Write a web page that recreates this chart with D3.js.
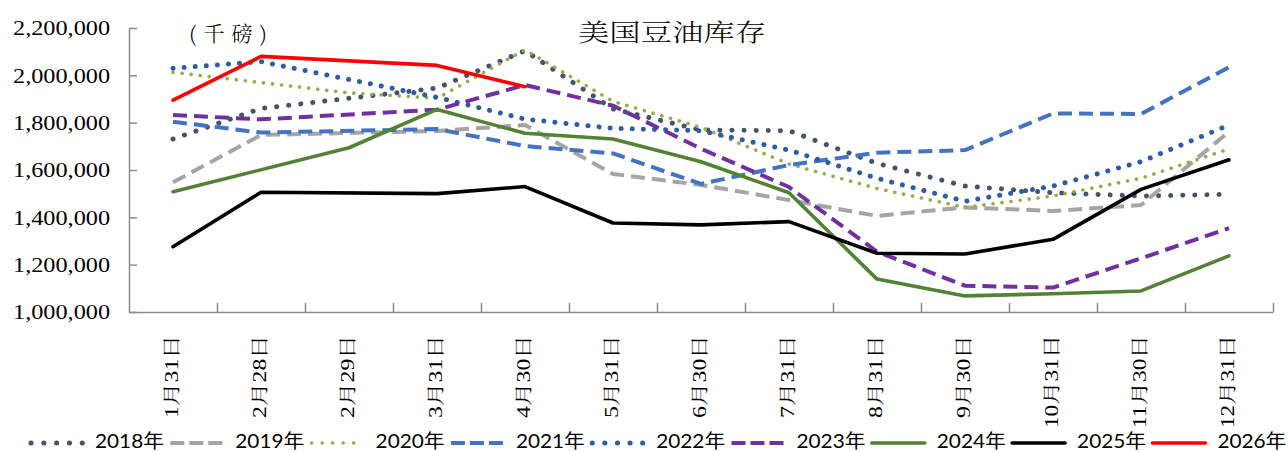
<!DOCTYPE html>
<html>
<head>
<meta charset="utf-8">
<script src="https://cdn.jsdelivr.net/npm/d3@7"></script>
<style>
  html, body { margin: 0; padding: 0; background: #ffffff; }
  svg { display: block; }
</style>
</head>
<body>
<svg id="chart" width="1288" height="452"></svg>
<script>
// ---------------- data ----------------
const categories = ["1月31日","2月28日","2月29日","3月31日","4月30日","5月31日","6月30日","7月31日","8月31日","9月30日","10月31日","11月30日","12月31日"];
const yTickValues = [1000000, 1200000, 1400000, 1600000, 1800000, 2000000, 2200000];
const seriesNames = ["2018年","2019年","2020年","2021年","2022年","2023年","2024年","2025年","2026年"];

const s2018 = [1731000, 1860000, null, 1946000, 2104000, 1858000, 1769000, 1766000, 1628000, 1532000, 1504000, 1490000, 1497000];
const s2019 = [1548000, 1748000, null, 1765000, 1790000, 1583000, 1537000, 1473000, 1406000, 1442000, 1427000, 1452000, 1762000];
const s2020 = [2013000, null, 1926000, 1903000, 2108000, 1890000, 1780000, 1625000, 1522000, 1442000, 1490000, 1565000, 1689000];
const s2021 = [1804000, 1758000, null, 1773000, 1701000, 1670000, 1541000, 1621000, 1673000, 1684000, 1839000, 1837000, 2034000];
const s2022 = [2030000, 2058000, null, 1907000, 1815000, 1776000, 1766000, 1684000, 1565000, 1468000, 1532000, 1635000, 1790000];
const s2023 = [1832000, 1814000, null, 1855000, 1959000, 1872000, 1690000, 1528000, 1255000, 1111000, 1103000, 1227000, 1354000];
const s2024 = [1508000, null, 1694000, 1856000, 1755000, 1731000, 1635000, 1504000, 1139000, 1068000, 1077000, 1089000, 1237000];
const s2025 = [1276000, 1506000, null, 1500000, 1530000, 1376000, 1368000, 1382000, 1248000, 1245000, 1307000, 1518000, 1643000];
const s2026 = [1895000, 2080000, null, 2042000, 1952000, null, null, null, null, null, null, null, null];

const seriesValues = [s2018, s2019, s2020, s2021, s2022, s2023, s2024, s2025, s2026];

// ---------------- styles ----------------
const styles = [
  {color: "#44546A", width: 5,   dash: "0.1 12",   cap: "round", legendDash: "0.1 12.7", legendFrom: 3},
  {color: "#A5A5A5", width: 4,   dash: "14 7",     cap: "butt",  legendDash: "14 5",   legendFrom: 2},
  {color: "#8FB04A", width: 3.6, dash: "0.1 9",    cap: "round", legendDash: "0.1 10.4", legendFrom: 3},
  {color: "#4472C4", width: 4,   dash: "14 7",     cap: "butt",  legendDash: "14 5",   legendFrom: 2},
  {color: "#2E5DA6", width: 5,   dash: "0.1 11",   cap: "round", legendDash: "0.1 12.5", legendFrom: 3},
  {color: "#7030A0", width: 4,   dash: "14 7",     cap: "butt",  legendDash: "14 5",   legendFrom: 2},
  {color: "#548235", width: 3.6, dash: null,       cap: "round", legendDash: null,     legendFrom: 2},
  {color: "#000000", width: 3.6, dash: null,       cap: "round", legendDash: null,     legendFrom: 2},
  {color: "#FF0000", width: 3.6, dash: null,       cap: "round", legendDash: null,     legendFrom: 2}
];

const svg = d3.select("#chart");
const axisColor = "#8C8C8C";

// ---------------- scales ----------------
const x = d3.scaleBand().domain(categories).range([129, 1273]).padding(0);
const xEdge = d3.scaleLinear().domain([0, categories.length]).range([129, 1273]);
const y = d3.scaleLinear().domain([1000000, 2200000]).range([312, 28]);

// ---------------- y axis ----------------
const yAxis = svg.append("g")
  .attr("transform", "translate(129,0)")
  .call(d3.axisLeft(y).tickValues(yTickValues).tickSizeInner(-8).tickSizeOuter(0)
        .tickFormat(d3.format(",")));
yAxis.select(".domain").attr("stroke", axisColor).attr("stroke-width", 1.5);
yAxis.selectAll(".tick line").attr("stroke", axisColor).attr("stroke-width", 1.5);
yAxis.selectAll(".tick text")
  .attr("x", -19)
  .attr("dy", "0.34em")
  .attr("font-family", "'Liberation Serif', 'Times New Roman', serif")
  .attr("font-size", 20)
  .attr("fill", "#000")
  .attr("textLength", 97)
  .attr("lengthAdjust", "spacingAndGlyphs");

// ---------------- x axis (boundary ticks) ----------------
const xAxisEdges = svg.append("g")
  .attr("transform", "translate(0,312)")
  .call(d3.axisBottom(xEdge).tickValues(d3.range(1, categories.length + 1)).tickSizeInner(-9).tickSizeOuter(0).tickFormat(""));
xAxisEdges.select(".domain").attr("stroke", axisColor).attr("stroke-width", 1.5);
xAxisEdges.selectAll(".tick line").attr("stroke", axisColor).attr("stroke-width", 1.5);

// ---------------- x axis labels (band centers) ----------------
const xAxisLabels = svg.append("g")
  .attr("transform", "translate(0,312)")
  .call(d3.axisBottom(x).tickSize(0));
xAxisLabels.select(".domain").remove();
xAxisLabels.selectAll(".tick text")
  .attr("font-family", "'Liberation Serif', 'Noto Serif CJK SC', 'Noto Sans CJK SC', serif")
  .attr("font-size", 18)
  .attr("fill", "#000")
  .attr("text-anchor", "end")
  .attr("transform", "translate(-1,23) rotate(-90)")
  .attr("x", 0)
  .attr("y", 0)
  .attr("dy", "0.36em")
  .attr("textLength", d => 53 + 10 * (d.match(/\d/g) || []).length)
  .attr("lengthAdjust", "spacingAndGlyphs");

// ---------------- lines ----------------
const line = d3.line()
  .x(d => x(d.c) + x.bandwidth() / 2)
  .y(d => y(d.v))
  .curve(d3.curveLinear);

const plot = svg.append("g");
seriesValues.forEach((vals, i) => {
  const pts = categories.map((c, j) => ({c: c, v: vals[j]})).filter(d => d.v !== null);
  const st = styles[i];
  const p = plot.append("path")
    .datum(pts)
    .attr("d", line)
    .attr("fill", "none")
    .attr("stroke", st.color)
    .attr("stroke-width", st.width)
    .attr("stroke-linejoin", "round")
    .attr("stroke-linecap", st.cap);
  if (st.dash) p.attr("stroke-dasharray", st.dash);
});

// ---------------- titles ----------------
svg.append("text")
  .attr("x", 578).attr("y", 41)
  .attr("font-family", "'Noto Serif CJK SC', 'Noto Sans CJK SC', serif")
  .attr("font-size", 24)
  .attr("font-weight", 300)
  .attr("fill", "#000")
  .attr("textLength", 188)
  .attr("lengthAdjust", "spacingAndGlyphs")
  .text("美国豆油库存");

svg.append("text")
  .attr("x", 189).attr("y", 41)
  .attr("font-family", "'Noto Serif CJK SC', 'Noto Sans CJK SC', serif")
  .attr("font-size", 21)
  .attr("font-weight", 300)
  .attr("fill", "#000")
  .attr("textLength", 78)
  .attr("lengthAdjust", "spacing")
  .text("(千磅)");

// ---------------- legend ----------------
const legend = svg.append("g");
seriesNames.forEach((name, i) => {
  const s = 28 + 140.3 * i;
  const st = styles[i];
  const l = legend.append("line")
    .attr("x1", s + st.legendFrom).attr("x2", s + 55)
    .attr("y1", 443).attr("y2", 443)
    .attr("stroke", st.color)
    .attr("stroke-width", st.width)
    .attr("stroke-linecap", st.cap);
  if (st.legendDash) l.attr("stroke-dasharray", st.legendDash);
  legend.append("text")
    .attr("x", s + 67).attr("y", 448)
    .attr("font-family", "Lato, 'Noto Sans CJK SC', sans-serif")
    .attr("font-size", 19)
    .attr("fill", "#000")
    .attr("textLength", 69)
    .attr("lengthAdjust", "spacingAndGlyphs")
    .text(name);
});
</script>
</body>
</html>
